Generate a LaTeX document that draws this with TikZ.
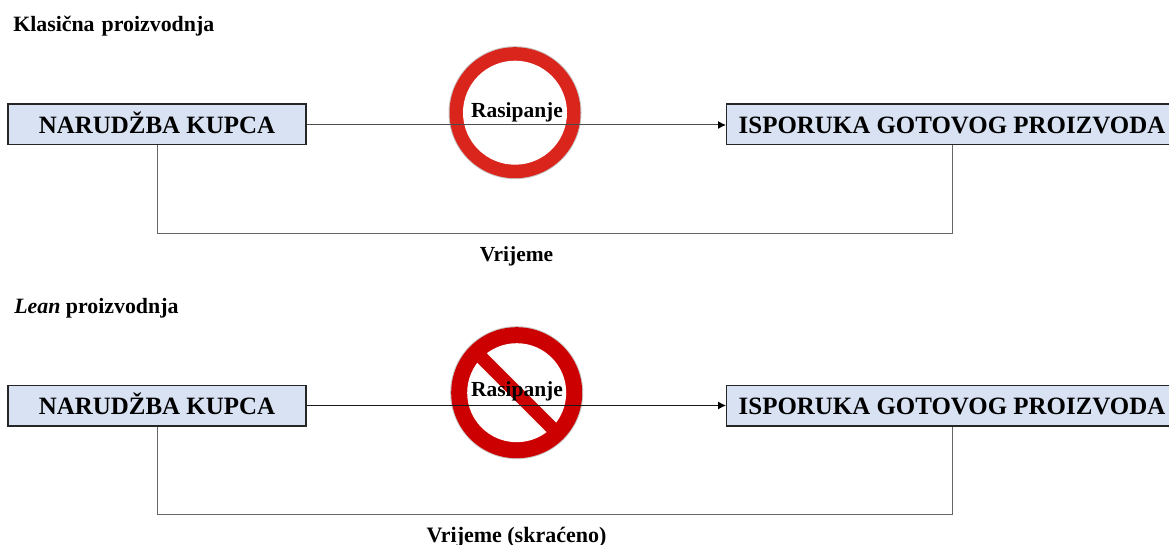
\documentclass[tikz,border=0pt]{standalone}
\usepackage{fontspec}
\usetikzlibrary{arrows.meta,calc}
\setmainfont{Liberation Serif}
\definecolor{boxfill}{HTML}{D9E2F3}
\definecolor{ringa}{HTML}{DA251C}
\definecolor{ringb}{HTML}{CC0000}
\begin{document}
\begin{tikzpicture}[x=0.75pt,y=-0.75pt,
  stagebox/.style={draw=black!85,line width=1pt,fill=boxfill,minimum height=30.5pt,inner sep=0pt,text height=13.5pt,text depth=0.7pt,font=\fontsize{18.7}{22}\selectfont\bfseries},
  leftbox/.style={stagebox,minimum width=223.5pt},
  rightbox/.style={stagebox,minimum width=338pt},
  flow/.style={draw=black!70,line width=0.75pt,-{Latex[length=6pt,width=6pt,black]}},
  span/.style={draw=black!60,line width=0.6pt},
  label/.style={font=\fontsize{16.1}{19}\selectfont\bfseries,inner sep=0pt,anchor=base},
  title/.style={font=\fontsize{16.4}{19}\selectfont\bfseries,inner sep=0pt,anchor=base west}]
\path[use as bounding box,clip] (0,0) rectangle (1169,545);
\fill[white] (0,0) rectangle (1169,545);

\node[title] (t1) at (13,32) {Klasična\hspace{5.2pt}proizvodnja};
\node[title] (t2) at (14,313) {\textit{Lean} proizvodnja};

% top row
\node[leftbox] (a1) at (157,124.5) {NARUDŽBA KUPCA};
\node[rightbox] (b1) at (952,124.5) {ISPORUKA GOTOVOG PROIZVODA};
\coordinate (c1) at (515,112.7);
\fill[black!22] (c1) circle (66.5);
\fill[ringa] (c1) circle (65.5);
\fill[white] (c1) circle (52);
\draw[flow] (a1.east |- 0,125) -- (b1.west |- 0,125);
\coordinate (s1) at (0,233.5);
\draw[span] (a1.south) |- (s1 -| b1.south) -- (b1.south);
\node[label] (r1) at (517,118) {Rasipanje};
\node[label] (v1) at (516.5,261) {Vrijeme};

% bottom row
\node[leftbox] (a2) at (157,405.5) {NARUDŽBA KUPCA};
\node[rightbox] (b2) at (952,405.5) {ISPORUKA GOTOVOG PROIZVODA};
\coordinate (c2) at (516.7,392.7);
\fill[black!22] (c2) circle (66.5);
\fill[ringb] (c2) circle (65.5);
\fill[white] (c2) circle (49.5);
\begin{scope}
  \clip (c2) circle (50);
  \draw[ringb,line width=10pt] ($(c2)+(-50,-50)$) -- ($(c2)+(50,50)$);
\end{scope}
\draw[flow,draw=black!90] (a2.east |- 0,405.5) -- (b2.west |- 0,405.5);
\coordinate (s2) at (0,514.5);
\draw[span] (a2.south) |- (s2 -| b2.south) -- (b2.south);
\node[label] (r2) at (517,396) {Rasipanje};
\node[label,font=\fontsize{16.5}{19}\selectfont\bfseries] (v2) at (516.5,542) {Vrijeme (skraćeno)};
\end{tikzpicture}
\end{document}
